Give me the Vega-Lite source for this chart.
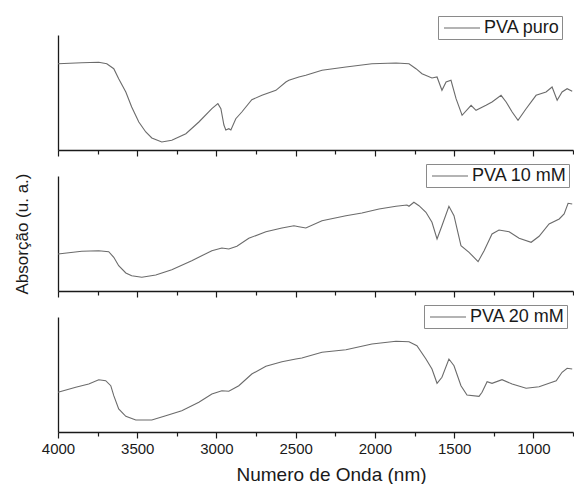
{
  "$schema": "https://vega.github.io/schema/vega-lite/v6.json",
  "autosize": {"type": "pad"},
  "padding": {"left": 12, "top": 15, "right": 0, "bottom": 0},
  "background": "white",
  "datasets": {
    "puro": [
      {"wn": 4000, "a": 86.3}, {"wn": 3850, "a": 87.3}, {"wn": 3743, "a": 87.7}, {"wn": 3692, "a": 86.3},
      {"wn": 3648, "a": 81.3}, {"wn": 3617, "a": 71.3}, {"wn": 3572, "a": 58}, {"wn": 3535, "a": 43},
      {"wn": 3490, "a": 28}, {"wn": 3446, "a": 18}, {"wn": 3408, "a": 12}, {"wn": 3345, "a": 8},
      {"wn": 3282, "a": 9.7}, {"wn": 3193, "a": 16.3}, {"wn": 3111, "a": 28}, {"wn": 3029, "a": 41.3},
      {"wn": 2991, "a": 46.3}, {"wn": 2972, "a": 41.3}, {"wn": 2953, "a": 25}, {"wn": 2941, "a": 20},
      {"wn": 2922, "a": 21.3}, {"wn": 2909, "a": 20}, {"wn": 2878, "a": 31.3}, {"wn": 2840, "a": 38},
      {"wn": 2777, "a": 50.3}, {"wn": 2713, "a": 54.7}, {"wn": 2625, "a": 59.7}, {"wn": 2562, "a": 68},
      {"wn": 2543, "a": 69.7}, {"wn": 2480, "a": 73}, {"wn": 2436, "a": 74.7}, {"wn": 2334, "a": 79.7},
      {"wn": 2183, "a": 83}, {"wn": 2019, "a": 86.3}, {"wn": 1867, "a": 87}, {"wn": 1785, "a": 86.3},
      {"wn": 1741, "a": 81.3}, {"wn": 1703, "a": 76.3}, {"wn": 1640, "a": 72}, {"wn": 1608, "a": 73},
      {"wn": 1577, "a": 59.7}, {"wn": 1551, "a": 68}, {"wn": 1520, "a": 69.7}, {"wn": 1488, "a": 51.3},
      {"wn": 1450, "a": 34.7}, {"wn": 1393, "a": 44.7}, {"wn": 1362, "a": 39.7}, {"wn": 1299, "a": 44.7},
      {"wn": 1261, "a": 48}, {"wn": 1204, "a": 54.7}, {"wn": 1172, "a": 48}, {"wn": 1134, "a": 38},
      {"wn": 1097, "a": 29.7}, {"wn": 1046, "a": 41.3}, {"wn": 983, "a": 54.7}, {"wn": 920, "a": 58},
      {"wn": 882, "a": 63}, {"wn": 850, "a": 49.7}, {"wn": 819, "a": 58}, {"wn": 787, "a": 61.3},
      {"wn": 755, "a": 58.7}
    ],
    "m10": [
      {"wn": 4000, "a": 37}, {"wn": 3850, "a": 39.7}, {"wn": 3743, "a": 40.3}, {"wn": 3680, "a": 39.3},
      {"wn": 3648, "a": 33.7}, {"wn": 3617, "a": 25.3}, {"wn": 3572, "a": 18}, {"wn": 3535, "a": 15.3},
      {"wn": 3471, "a": 13.7}, {"wn": 3383, "a": 16}, {"wn": 3282, "a": 21.3}, {"wn": 3156, "a": 30.3},
      {"wn": 3029, "a": 40.3}, {"wn": 2966, "a": 43}, {"wn": 2922, "a": 42}, {"wn": 2871, "a": 44.7},
      {"wn": 2796, "a": 52.7}, {"wn": 2688, "a": 59.3}, {"wn": 2587, "a": 63}, {"wn": 2511, "a": 65.3},
      {"wn": 2480, "a": 64.3}, {"wn": 2436, "a": 63}, {"wn": 2334, "a": 70.3}, {"wn": 2183, "a": 75.3},
      {"wn": 2082, "a": 78}, {"wn": 1974, "a": 82}, {"wn": 1867, "a": 84.7}, {"wn": 1798, "a": 86},
      {"wn": 1785, "a": 84.7}, {"wn": 1754, "a": 88.7}, {"wn": 1722, "a": 85.3}, {"wn": 1678, "a": 78.7},
      {"wn": 1640, "a": 68.7}, {"wn": 1608, "a": 52}, {"wn": 1577, "a": 65.3}, {"wn": 1533, "a": 84.7},
      {"wn": 1501, "a": 75.3}, {"wn": 1457, "a": 45.3}, {"wn": 1406, "a": 38.7}, {"wn": 1349, "a": 29.3},
      {"wn": 1311, "a": 40.3}, {"wn": 1261, "a": 57}, {"wn": 1217, "a": 61}, {"wn": 1153, "a": 59.3},
      {"wn": 1090, "a": 52.7}, {"wn": 1014, "a": 48.7}, {"wn": 964, "a": 54.7}, {"wn": 901, "a": 67},
      {"wn": 837, "a": 72}, {"wn": 806, "a": 77}, {"wn": 781, "a": 87.7}, {"wn": 755, "a": 87}
    ],
    "m20": [
      {"wn": 4000, "a": 39.7}, {"wn": 3888, "a": 44.7}, {"wn": 3806, "a": 48}, {"wn": 3743, "a": 52.3},
      {"wn": 3699, "a": 51.3}, {"wn": 3667, "a": 46.3}, {"wn": 3648, "a": 36.3}, {"wn": 3617, "a": 23},
      {"wn": 3572, "a": 15.7}, {"wn": 3509, "a": 12}, {"wn": 3408, "a": 12}, {"wn": 3320, "a": 16.3},
      {"wn": 3219, "a": 21.3}, {"wn": 3111, "a": 29.7}, {"wn": 3029, "a": 38}, {"wn": 2966, "a": 41.3},
      {"wn": 2922, "a": 40.7}, {"wn": 2859, "a": 46.3}, {"wn": 2777, "a": 58}, {"wn": 2688, "a": 65.7},
      {"wn": 2587, "a": 70.3}, {"wn": 2499, "a": 73}, {"wn": 2461, "a": 74}, {"wn": 2334, "a": 79.7},
      {"wn": 2183, "a": 82.3}, {"wn": 2019, "a": 88}, {"wn": 1867, "a": 90.7}, {"wn": 1785, "a": 90.3},
      {"wn": 1735, "a": 86.3}, {"wn": 1678, "a": 73}, {"wn": 1640, "a": 63}, {"wn": 1608, "a": 48.7},
      {"wn": 1577, "a": 54.7}, {"wn": 1533, "a": 73}, {"wn": 1501, "a": 66.3}, {"wn": 1457, "a": 46.3},
      {"wn": 1419, "a": 37}, {"wn": 1343, "a": 35.7}, {"wn": 1324, "a": 39.7}, {"wn": 1292, "a": 50.3},
      {"wn": 1261, "a": 48.7}, {"wn": 1198, "a": 52.3}, {"wn": 1134, "a": 48}, {"wn": 1046, "a": 43.7},
      {"wn": 964, "a": 45.3}, {"wn": 901, "a": 48.7}, {"wn": 856, "a": 51.3}, {"wn": 819, "a": 59.7},
      {"wn": 787, "a": 63.7}, {"wn": 755, "a": 63}
    ]
  },
  "spacing": 6,
  "resolve": {"scale": {"color": "independent"}, "legend": {"color": "independent"}},
  "vconcat": [
    {
      "width": 515, "height": 115,
      "data": {"name": "puro"},
      "mark": {"type": "line", "strokeWidth": 1.1},
      "encoding": {
        "x": {"field": "wn", "type": "quantitative", "scale": {"domain": [4000, 750], "nice": false, "zero": false},
          "axis": {"title": null, "labels": false, "values": [4000, 3750, 3500, 3250, 3000, 2750, 2500, 2250, 2000, 1750, 1500, 1250, 1000, 750],
            "tickSize": {"condition": {"test": "datum.value % 500 === 0", "value": 6}, "value": 4}}},
        "y": {"field": "a", "type": "quantitative", "scale": {"domain": [0, 115], "nice": false, "zero": false},
          "axis": {"title": null, "labels": false, "ticks": false}},
        "color": {"datum": "PVA puro", "scale": {"range": ["#6b6b6b"]},
          "legend": {"title": null, "orient": "none", "legendX": 380, "legendY": -19}}
      }
    },
    {
      "width": 515, "height": 115,
      "data": {"name": "m10"},
      "mark": {"type": "line", "strokeWidth": 1.1},
      "encoding": {
        "x": {"field": "wn", "type": "quantitative", "scale": {"domain": [4000, 750], "nice": false, "zero": false},
          "axis": {"title": null, "labels": false, "values": [4000, 3750, 3500, 3250, 3000, 2750, 2500, 2250, 2000, 1750, 1500, 1250, 1000, 750],
            "tickSize": {"condition": {"test": "datum.value % 500 === 0", "value": 6}, "value": 4}}},
        "y": {"field": "a", "type": "quantitative", "scale": {"domain": [0, 115], "nice": false, "zero": false},
          "axis": {"title": "Absorção (u. a.)", "labels": false, "ticks": false, "titleFontSize": 17, "titlePadding": 27}},
        "color": {"datum": "PVA 10 mM", "scale": {"range": ["#6b6b6b"]},
          "legend": {"title": null, "orient": "none", "legendX": 368, "legendY": -12}}
      }
    },
    {
      "width": 515, "height": 115,
      "data": {"name": "m20"},
      "mark": {"type": "line", "strokeWidth": 1.1},
      "encoding": {
        "x": {"field": "wn", "type": "quantitative", "scale": {"domain": [4000, 750], "nice": false, "zero": false},
          "axis": {"title": "Numero de Onda (nm)", "format": "d", "labelExpr": "datum.value % 500 === 0 ? datum.label : ''",
            "values": [4000, 3750, 3500, 3250, 3000, 2750, 2500, 2250, 2000, 1750, 1500, 1250, 1000, 750],
            "tickSize": {"condition": {"test": "datum.value % 500 === 0", "value": 6}, "value": 4},
            "labelFontSize": 15, "labelPadding": 3, "titleFontSize": 19, "titlePadding": 9, "titleX": 273}},
        "y": {"field": "a", "type": "quantitative", "scale": {"domain": [0, 115], "nice": false, "zero": false},
          "axis": {"title": null, "labels": false, "ticks": false}},
        "color": {"datum": "PVA 20 mM", "scale": {"range": ["#6b6b6b"]},
          "legend": {"title": null, "orient": "none", "legendX": 366, "legendY": -12}}
      }
    }
  ],
  "config": {
    "font": "Liberation Sans",
    "view": {"stroke": null},
    "axis": {"domainColor": "#1a1a1a", "domainWidth": 1.3, "tickColor": "#1a1a1a", "tickWidth": 1.2, "labelColor": "#1a1a1a", "titleColor": "#1a1a1a", "grid": false, "titleFontWeight": "normal", "labelFlush": false, "labelOverlap": false},
    "legend": {"symbolType": "M-2,0H2", "symbolSize": 324, "symbolOffset": 12, "symbolStrokeWidth": 1.1, "labelFontSize": 18, "labelColor": "#1a1a1a", "labelOffset": 12, "strokeColor": "#8a8a8a", "padding": 2, "fillColor": "white"}
  }
}
